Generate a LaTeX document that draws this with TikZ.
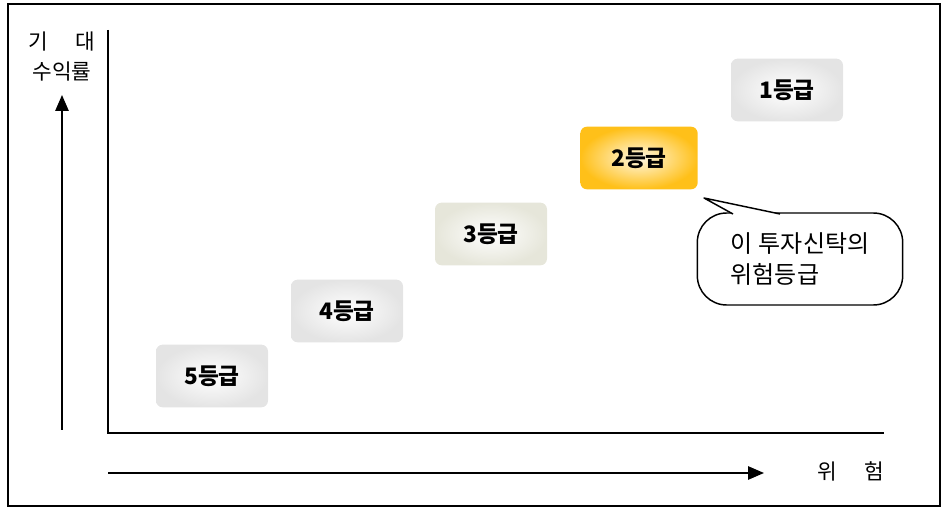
\documentclass[tikz,border=0pt]{standalone}
\usepackage{fontspec}
\setmainfont{Noto Sans CJK KR}
\usetikzlibrary{arrows.meta}
\definecolor{edgegray}{RGB}{228,228,228}
\definecolor{edgebeige}{RGB}{230,230,218}
\definecolor{gold}{RGB}{255,192,25}
\definecolor{cream}{RGB}{255,248,228}
\begin{document}
\begin{tikzpicture}[x=0.75pt,y=-0.75pt,
  grade/.style={rounded corners=5pt, minimum width=84pt, minimum height=47pt,
    inner sep=0pt, font=\fontsize{17}{19}\selectfont\bfseries,
    shading=radial, inner color=white, outer color=edgegray},
  axisline/.style={line width=1.3pt},
  arr/.style={line width=1.4pt, -{Triangle[length=12pt,width=10pt]}},
  lbl/.style={font=\fontsize{16}{18}\selectfont, inner sep=0pt}]
\useasboundingbox (0,0) rectangle (943,509);
\draw[line width=1.2pt] (8,4) rectangle (940,506);
% axes
\coordinate (yt) at (108,30);
\coordinate (o) at (108,433);
\coordinate (xr) at (884,433);
\draw[axisline] (yt) -- (o) -- (xr);
% direction arrows
\coordinate (ua) at (62,430);
\coordinate (ub) at (62,95);
\draw[arr] (ua) -- (ub);
\coordinate (ra) at (108,473);
\coordinate (rb) at (764,473);
\draw[arr] (ra) -- (rb);
% axis labels
\node[lbl] (l1) at (62,42) {기\hspace{1.3em}대};
\node[lbl] (l2) at (62,72) {수익률};
\node[lbl] (l3) at (851,471) {위\hspace{1.3em}험};
% grade boxes
\node[grade] (g5) at (212,376) {5등급};
\node[grade] (g4) at (347,311) {4등급};
\node[grade, outer color=edgebeige] (g3) at (491,234) {3등급};
\node[grade, inner color=cream, outer color=gold, minimum width=88pt] (g2) at (639,158) {2등급};
\node[grade] (g1) at (787,90) {1등급};
% callout
\node[draw, line width=1.1pt, rounded corners=22pt, minimum width=154pt, minimum height=69pt,
      fill=white, align=left, font=\fontsize{18}{23}\selectfont, inner sep=0pt] (c) at (800,259)
      {이\hspace{0.25em}투자신탁의\\위험등급};
\coordinate (tip) at (704,198);
\coordinate (bl) at (733,214);
\coordinate (br) at (780,214);
\fill[white] (bl) -- (tip) -- (br) -- ([yshift=-3pt]br) -- ([yshift=-3pt]bl) -- cycle;
\draw[line width=1.1pt, line join=round] (bl) -- (tip) -- (br);
\end{tikzpicture}
\end{document}
